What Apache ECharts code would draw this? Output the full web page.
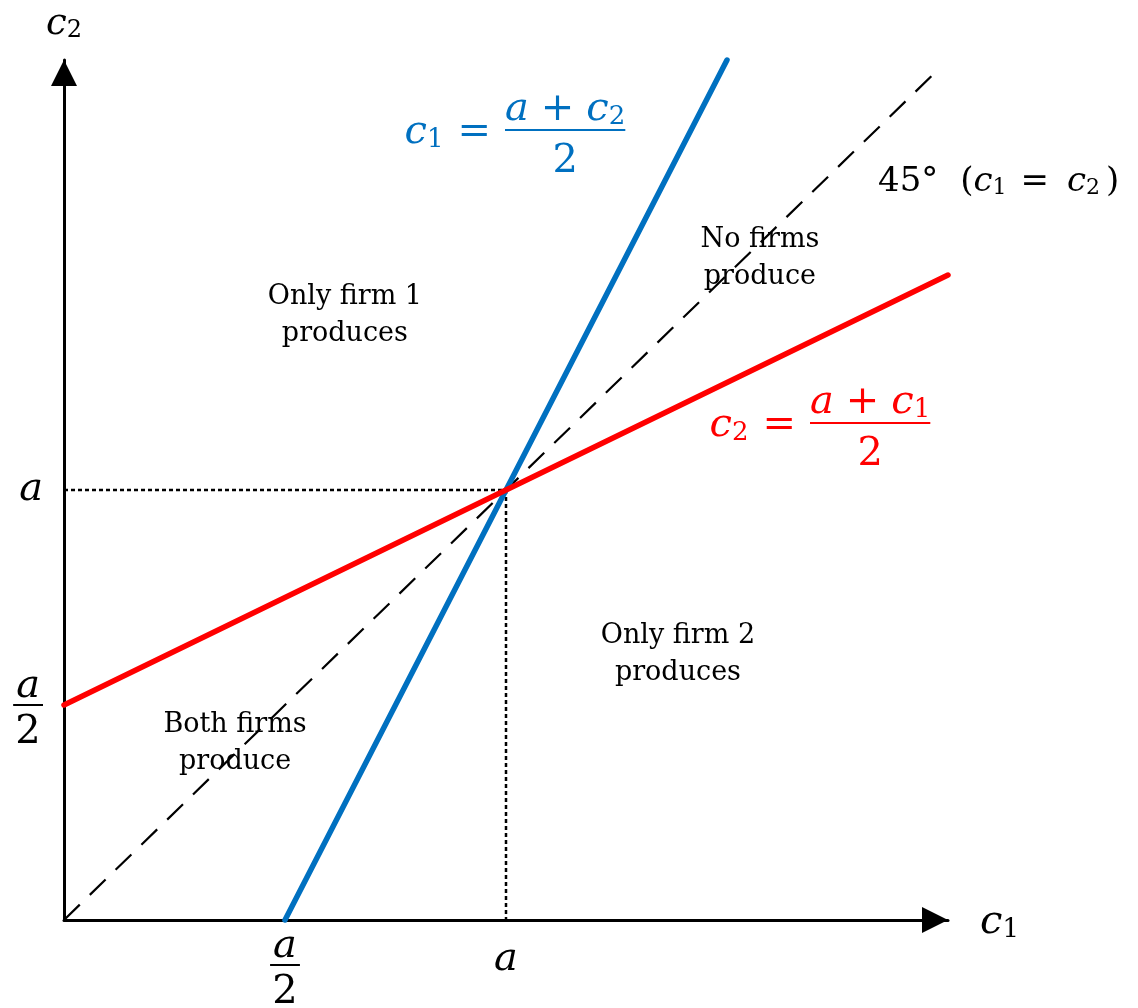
<!DOCTYPE html>
<html>
<head>
<meta charset="utf-8">
<script src="https://cdn.jsdelivr.net/npm/echarts@6/dist/echarts.min.js"></script>
<style>
  html, body { margin: 0; padding: 0; background: #ffffff; }
  #chart { width: 1138px; height: 1008px; }
</style>
</head>
<body>
<div id="chart"></div>
<script>
// Cost parameter a (a/2 = 1 on both axes)
const A = 2;
const tickValues = [A / 2, A];
const tickNames = ['a/2', 'a'];

// Boundaries between the production regions
const firm1Line = [[1, 0], [3, 4]];       // c1 = (a + c2) / 2
const firm2Line = [[0, 1], [4, 3]];       // c2 = (a + c1) / 2
const diagonal = [[0, 0], [3.96, 3.96]];  // c1 = c2
const guideH = [[0, 2], [2, 2]];
const guideV = [[2, 2], [2, 0]];

const regionNames = ['Only firm 1\nproduces', 'No firms\nproduce', 'Only firm 2\nproduces', 'Both firms\nproduce'];

const BLUE = '#0070C0', RED = '#FF0000', INK = '#000000';
const SERIF = 'DejaVu Serif';

// italic variable, upright text, lowered subscript, spaced equals sign
function mathRich(size, color, lh, eqPad) {
  const sub = Math.round(size * 0.66);
  const base = { fontFamily: SERIF, color: color, verticalAlign: 'bottom', lineHeight: lh };
  return {
    i: Object.assign({}, base, { fontStyle: 'italic', fontSize: size }),
    u: Object.assign({}, base, { fontSize: size }),
    s: Object.assign({}, base, { fontSize: sub, height: sub, lineHeight: 0 }),
    eq: Object.assign({}, base, { fontSize: size, padding: eqPad || [0, 14, 0, 14] })
  };
}

// stacked fraction for the equations: numerator / bar / denominator
function eqFracRich(size, color) {
  const r = mathRich(size, color, 52);
  r.np = Object.assign({}, r.u, { padding: [0, 12, 0, 12] });
  r.hr = { borderColor: color, borderWidth: 2, width: '100%', height: 0, lineHeight: 0, align: 'left' };
  r.dd = Object.assign({}, r.u, { align: 'center' });
  return r;
}

// stacked fraction for the tick labels
const tickFrac = {
  ni: { fontFamily: SERIF, fontStyle: 'italic', fontSize: 40, lineHeight: 36, color: INK, verticalAlign: 'middle', align: 'center', padding: [0, 3, 0, 3] },
  hr: { borderColor: INK, borderWidth: 2, width: '100%', height: 0, lineHeight: 0, align: 'left' },
  dd: { fontFamily: SERIF, fontSize: 40, lineHeight: 36, color: INK, verticalAlign: 'middle', align: 'center', padding: [19, 0, 0, 0] }
};

function tickText(name) {
  if (name.indexOf('/') >= 0) {
    const parts = name.split('/');
    return '{ni|' + parts[0] + '}\n{hr|}\n{dd|' + parts[1] + '}';
  }
  return '{t|' + name + '}';
}

const regionLabel = (text) => ({
  show: true, position: 'inside', formatter: text,
  fontFamily: SERIF, fontSize: 27, lineHeight: 37, color: '#000', align: 'center'
});

function equation(anchor, color, lhs, frac) {
  return [
    { value: anchor, label: { show: true, position: 'left', distance: 0, formatter: lhs, rich: mathRich(40, color, 46) } },
    { value: anchor, label: { show: true, position: 'right', distance: 0, formatter: frac, rich: eqFracRich(40, color) } }
  ];
}

const rich45 = Object.assign(mathRich(34, INK, 40, [0, 18, 0, 14]), {
  p: { fontFamily: SERIF, fontSize: 34, lineHeight: 40, color: INK, verticalAlign: 'bottom', padding: [0, 0, 0, 22] },
  q: { fontFamily: SERIF, fontSize: 34, lineHeight: 40, color: INK, verticalAlign: 'bottom', padding: [0, 0, 0, 6] }
});

const annotations = [
  { value: [1.271, 2.814], label: regionLabel(regionNames[0]) },
  { value: [3.149, 3.079], label: regionLabel(regionNames[1]) },
  { value: [2.778, 1.233], label: regionLabel(regionNames[2]) },
  { value: [0.774, 0.819], label: regionLabel(regionNames[3]) },
  ...equation([1.9955, 3.6744], BLUE, '{i|c}{s|1}{eq|=}', '{i|a}{np|+}{i|c}{s|2}\n{hr|}\n{dd|2}'),
  ...equation([3.3756, 2.3116], RED, '{i|c}{s|2}{eq|=}', '{i|a}{np|+}{i|c}{s|1}\n{hr|}\n{dd|2}'),
  { value: [3.6833, 3.4465], label: { show: true, position: 'right', distance: 0,
      formatter: '{u|45°}{p|(}{i|c}{s|1}{eq|=}{i|c}{s|2}{q|)}', rich: rich45 } }
];

function lineSeries(name, data, color, width, type, z) {
  return {
    name: name, type: 'line', data: data, showSymbol: false, symbol: 'none',
    clip: false, silent: true, z: z,
    lineStyle: { color: color, width: width, type: type, cap: type === 'solid' ? 'round' : 'butt' }
  };
}

const chart = echarts.init(document.getElementById('chart'), null, { renderer: 'canvas' });
chart.setOption({
  animation: false,
  backgroundColor: '#ffffff',
  grid: { left: 64, right: 190, top: 60, bottom: 88, containLabel: false, outerBoundsMode: 'none' },
  xAxis: {
    type: 'value', min: 0, max: 4,
    name: '{i|c}{s|1}', nameLocation: 'end', nameGap: 32,
    nameTextStyle: { align: 'left', verticalAlign: 'middle', rich: mathRich(40, INK, 46) },
    axisLine: { show: true, onZero: false, symbol: ['none', 'triangle'], symbolSize: [26, 26], symbolOffset: [0, -13],
      lineStyle: { color: INK, width: 3 } },
    axisTick: { show: false },
    splitLine: { show: false },
    axisLabel: {
      customValues: tickValues, margin: 9,
      formatter: (v) => tickText(tickNames[tickValues.indexOf(v)]),
      rich: Object.assign({}, tickFrac, {
        t: { fontFamily: SERIF, fontStyle: 'italic', fontSize: 40, lineHeight: 36, color: INK, verticalAlign: 'middle', padding: [26, 0, 0, 0] }
      })
    }
  },
  yAxis: {
    type: 'value', min: 0, max: 4,
    name: '{i|c}{s|2}', nameLocation: 'end', nameGap: 38,
    nameTextStyle: { align: 'center', verticalAlign: 'middle', rich: mathRich(37, INK, 42) },
    axisLine: { show: true, onZero: false, symbol: ['none', 'triangle'], symbolSize: [26, 26], symbolOffset: [0, -13],
      lineStyle: { color: INK, width: 3 } },
    axisTick: { show: false },
    splitLine: { show: false },
    axisLabel: {
      customValues: tickValues, margin: 21, align: 'right',
      formatter: (v) => tickText(tickNames[tickValues.indexOf(v)]),
      rich: Object.assign({}, tickFrac, {
        t: { fontFamily: SERIF, fontStyle: 'italic', fontSize: 40, lineHeight: 36, color: INK, verticalAlign: 'middle' }
      })
    }
  },
  series: [
    lineSeries('guideH', guideH, INK, 2.5, [4, 3], 1),
    lineSeries('guideV', guideV, INK, 2.5, [4, 3], 1),
    lineSeries('diagonal', diagonal, INK, 2.2, [22, 14], 2),
    lineSeries('firm1', firm1Line, BLUE, 5.5, 'solid', 3),
    lineSeries('firm2', firm2Line, RED, 5.5, 'solid', 4),
    {
      name: 'labels', type: 'scatter', data: annotations, symbolSize: 0, silent: true, z: 10,
      itemStyle: { color: 'rgba(0,0,0,0)', opacity: 1 },
      emphasis: { disabled: true }
    }
  ]
});
</script>
</body>
</html>
